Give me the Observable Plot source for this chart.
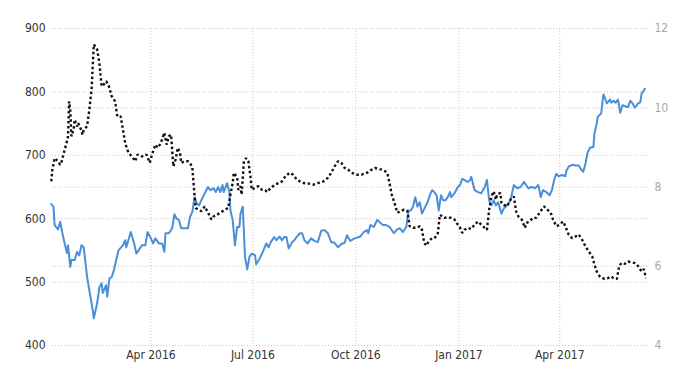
<!DOCTYPE html>
<html>
<head>
<meta charset="utf-8">
<script src="https://cdn.jsdelivr.net/npm/d3@7"></script>
<script src="https://cdn.jsdelivr.net/npm/@observablehq/plot@0.6"></script>
<style>
  html, body { margin: 0; padding: 0; background: #fff; }
  #chart { width: 700px; height: 375px; }
</style>
</head>
<body>
<div id="chart"></div>
<script>
// Blue series (left axis)
const blueDates = [
"2016-01-03","2016-01-05","2016-01-06","2016-01-09","2016-01-11","2016-01-13","2016-01-15","2016-01-17","2016-01-18","2016-01-20",
"2016-01-21","2016-01-24","2016-01-26","2016-01-28","2016-01-30","2016-02-01","2016-02-04","2016-02-07","2016-02-09","2016-02-10",
"2016-02-13","2016-02-15","2016-02-17","2016-02-18","2016-02-21","2016-02-22","2016-02-24","2016-02-26","2016-02-28","2016-03-01",
"2016-03-03","2016-03-07","2016-03-09","2016-03-10","2016-03-14","2016-03-17","2016-03-19","2016-03-21","2016-03-24","2016-03-27",
"2016-03-29","2016-04-01","2016-04-03","2016-04-05","2016-04-08","2016-04-11","2016-04-13","2016-04-14","2016-04-17","2016-04-20",
"2016-04-22","2016-04-24","2016-04-26","2016-04-28","2016-05-01","2016-05-04","2016-05-06","2016-05-08","2016-05-10","2016-05-12",
"2016-05-14","2016-05-16","2016-05-19","2016-05-22","2016-05-24","2016-05-27","2016-05-29","2016-05-31","2016-06-02","2016-06-04",
"2016-06-05","2016-06-08","2016-06-10","2016-06-11","2016-06-13","2016-06-15","2016-06-17","2016-06-19","2016-06-20","2016-06-22",
"2016-06-24","2016-06-26","2016-06-28","2016-06-30","2016-07-03","2016-07-04","2016-07-07","2016-07-10","2016-07-13","2016-07-15",
"2016-07-17","2016-07-20","2016-07-22","2016-07-25","2016-07-27","2016-07-29","2016-07-31","2016-08-02","2016-08-05","2016-08-07",
"2016-08-09","2016-08-12","2016-08-14","2016-08-16","2016-08-19","2016-08-22","2016-08-25","2016-08-28","2016-08-31","2016-09-03",
"2016-09-06","2016-09-09","2016-09-12","2016-09-15","2016-09-18","2016-09-21","2016-09-23","2016-09-26","2016-09-30","2016-10-05",
"2016-10-08","2016-10-11","2016-10-12","2016-10-14","2016-10-17","2016-10-20","2016-10-22","2016-10-25","2016-10-28","2016-10-31",
"2016-11-04","2016-11-06","2016-11-09","2016-11-12","2016-11-15","2016-11-17","2016-11-19","2016-11-21","2016-11-23","2016-11-25",
"2016-11-27","2016-11-29","2016-12-02","2016-12-04","2016-12-06","2016-12-08","2016-12-10","2016-12-12","2016-12-14","2016-12-16",
"2016-12-18","2016-12-20","2016-12-22","2016-12-24","2016-12-25","2016-12-28","2016-12-31","2017-01-02","2017-01-04","2017-01-06",
"2017-01-09","2017-01-11","2017-01-12","2017-01-15","2017-01-18","2017-01-21","2017-01-24","2017-01-26","2017-01-28","2017-01-30",
"2017-02-01","2017-02-03","2017-02-05","2017-02-08","2017-02-10","2017-02-13","2017-02-16","2017-02-19","2017-02-22","2017-02-25",
"2017-02-28","2017-03-04","2017-03-07","2017-03-10","2017-03-13","2017-03-15","2017-03-17","2017-03-20","2017-03-23","2017-03-25",
"2017-03-27","2017-03-29","2017-03-31","2017-04-03","2017-04-06","2017-04-07","2017-04-09","2017-04-12","2017-04-15","2017-04-18",
"2017-04-20","2017-04-22","2017-04-24","2017-04-26","2017-04-28","2017-05-01","2017-05-02","2017-05-04","2017-05-05","2017-05-08",
"2017-05-10","2017-05-11","2017-05-13","2017-05-16","2017-05-17","2017-05-19","2017-05-21","2017-05-23","2017-05-25","2017-05-27",
"2017-05-30","2017-06-01","2017-06-03","2017-06-05","2017-06-07","2017-06-10","2017-06-12","2017-06-13","2017-06-15","2017-06-16"
];
const blueValues = [
623,619,590,583,595,577,561,546,558,524,
535,535,548,542,558,555,508,477,456,443,
467,492,498,483,495,477,506,508,519,535,
550,558,566,555,579,561,545,550,558,558,
579,569,561,569,561,561,548,577,577,585,
607,600,598,585,585,585,603,611,634,624,
621,629,640,650,645,648,642,650,642,653,
642,656,642,613,598,558,587,587,608,619,
540,520,540,545,542,528,537,548,561,555,
563,571,566,572,566,571,571,553,563,566,
571,577,577,566,561,569,565,563,581,582,
577,563,562,555,560,562,574,565,569,572,
579,582,577,590,587,598,595,590,590,587,
577,582,585,579,587,613,613,619,634,619,
626,608,619,626,637,645,642,637,613,637,
629,629,634,642,634,640,650,653,663,661,
658,661,666,645,642,640,650,661,629,621,
629,621,626,608,616,621,629,653,648,650,
658,648,650,648,653,634,645,642,637,645,
661,671,667,669,667,676,682,685,684,684,
678,674,687,705,712,713,734,750,761,766,
796,792,782,788,783,786,783,788,767,779,
777,776,786,782,775,782,784,797,802,805
];

// Black dotted series (right axis)
const blackDates = [
"2016-01-03","2016-01-04","2016-01-06","2016-01-09","2016-01-11","2016-01-12","2016-01-15","2016-01-17","2016-01-18","2016-01-19",
"2016-01-20","2016-01-21","2016-01-23","2016-01-24","2016-01-26","2016-01-27","2016-01-29","2016-01-31","2016-02-01","2016-02-04",
"2016-02-06","2016-02-08","2016-02-10","2016-02-13","2016-02-15","2016-02-17","2016-02-19","2016-02-21","2016-02-23","2016-02-26",
"2016-02-29","2016-03-02","2016-03-05","2016-03-07","2016-03-09","2016-03-12","2016-03-15","2016-03-18","2016-03-20","2016-03-24",
"2016-03-28","2016-03-31","2016-04-02","2016-04-05","2016-04-07","2016-04-09","2016-04-11","2016-04-13","2016-04-15","2016-04-17",
"2016-04-19","2016-04-21","2016-04-23","2016-04-25","2016-04-27","2016-04-28","2016-05-01","2016-05-04","2016-05-06","2016-05-08",
"2016-05-10","2016-05-11","2016-05-13","2016-05-16","2016-05-19","2016-05-22","2016-05-25","2016-05-27","2016-05-30","2016-06-02",
"2016-06-06","2016-06-09","2016-06-11","2016-06-13","2016-06-14","2016-06-17","2016-06-18","2016-06-20","2016-06-21","2016-06-23",
"2016-06-25","2016-06-27","2016-06-29","2016-06-30","2016-07-03","2016-07-06","2016-07-09","2016-07-12","2016-07-14","2016-07-17",
"2016-07-21","2016-07-24","2016-07-27","2016-07-30","2016-08-03","2016-08-06","2016-08-09","2016-08-12","2016-08-15","2016-08-19",
"2016-08-24","2016-08-28","2016-09-02","2016-09-06","2016-09-09","2016-09-12","2016-09-15","2016-09-18","2016-09-21","2016-09-24",
"2016-09-27","2016-10-02","2016-10-06","2016-10-11","2016-10-14","2016-10-18","2016-10-21","2016-10-24","2016-10-27","2016-10-29",
"2016-10-31","2016-11-02","2016-11-05","2016-11-07","2016-11-10","2016-11-13","2016-11-16","2016-11-18","2016-11-21","2016-11-24",
"2016-11-27","2016-11-29","2016-12-01","2016-12-03","2016-12-05","2016-12-08","2016-12-10","2016-12-13","2016-12-15","2016-12-17",
"2016-12-19","2016-12-22","2016-12-25","2016-12-28","2016-12-31","2017-01-02","2017-01-04","2017-01-06","2017-01-09","2017-01-12",
"2017-01-15","2017-01-18","2017-01-21","2017-01-24","2017-01-26","2017-01-28","2017-01-30","2017-02-01","2017-02-03","2017-02-04",
"2017-02-07","2017-02-08","2017-02-10","2017-02-13","2017-02-16","2017-02-19","2017-02-21","2017-02-23","2017-02-26","2017-03-01",
"2017-03-02","2017-03-05","2017-03-08","2017-03-11","2017-03-14","2017-03-18","2017-03-21","2017-03-24","2017-03-26","2017-03-29",
"2017-04-01","2017-04-04","2017-04-06","2017-04-09","2017-04-12","2017-04-15","2017-04-18","2017-04-21","2017-04-24","2017-04-27",
"2017-04-30","2017-05-02","2017-05-04","2017-05-07","2017-05-11","2017-05-14","2017-05-17","2017-05-19","2017-05-22","2017-05-24",
"2017-05-26","2017-05-29","2017-06-01","2017-06-04","2017-06-07","2017-06-09","2017-06-11","2017-06-13","2017-06-15","2017-06-17"
];
const blackValues = [
8.14,8.44,8.73,8.65,8.56,8.61,8.94,9.15,9.28,10.16,
9.95,9.28,9.45,9.70,9.53,9.62,9.49,9.32,9.45,9.53,
9.95,10.46,11.60,11.47,11.13,10.54,10.59,10.67,10.59,10.29,
10.16,9.78,9.78,9.45,9.11,8.86,8.77,8.65,8.82,8.77,
8.82,8.61,8.82,9.07,8.99,9.07,9.20,9.37,9.07,9.28,
9.32,8.52,8.69,8.99,8.86,8.61,8.65,8.65,8.61,8.48,
7.76,7.47,7.43,7.39,7.51,7.35,7.18,7.26,7.30,7.35,
7.43,7.47,7.81,8.10,8.36,8.23,7.93,8.02,7.81,8.65,
8.73,8.65,8.23,7.93,7.98,8.02,7.93,7.92,7.87,7.98,
8.06,8.10,8.14,8.27,8.36,8.31,8.20,8.14,8.10,8.09,
8.06,8.10,8.14,8.23,8.36,8.52,8.65,8.61,8.48,8.44,
8.36,8.31,8.31,8.36,8.42,8.48,8.46,8.44,8.40,8.36,
8.10,7.81,7.55,7.35,7.39,7.43,7.39,7.01,6.97,6.97,
7.01,6.92,6.59,6.52,6.63,6.71,6.71,6.80,7.30,7.26,
7.22,7.24,7.22,7.18,7.05,6.97,6.84,6.92,6.97,6.94,
7.05,7.13,7.05,6.97,6.92,7.43,7.76,7.89,7.68,7.81,
7.85,7.60,7.55,7.51,7.68,7.76,7.39,7.26,7.18,6.97,
7.09,7.13,7.22,7.22,7.35,7.51,7.43,7.35,7.18,7.01,
7.05,7.13,7.01,6.80,6.71,6.75,6.80,6.67,6.50,6.37,
6.25,6.04,5.87,5.73,5.68,5.70,5.74,5.70,5.68,6.00,
6.08,6.06,6.12,6.10,6.08,6.04,5.96,5.87,5.93,5.70
];

// Axis ticks
const leftTicks = [400, 500, 600, 700, 800, 900];
const rightTicks = [4, 6, 8, 10, 12];
const xTickDates = ["2016-04-01", "2016-07-01", "2016-10-01", "2017-01-01", "2017-04-01"];

// right axis [4,12] shares the frame with left axis [400,900]
const rightToLeft = v => 400 + (v - 4) * 62.5;
const leftToRight = v => 4 + (v - 400) / 62.5;

const blue = blueDates.map((d, i) => ({date: new Date(d), value: blueValues[i]}));
const black = blackDates.map((d, i) => ({date: new Date(d), value: blackValues[i]}));
const xTicks = xTickDates.map(d => new Date(d));

const font = "'Liberation Sans Narrow', 'DejaVu Sans Condensed', 'Liberation Sans', sans-serif";

const chart = Plot.plot({
  width: 700,
  height: 375,
  marginLeft: 52,
  marginRight: 52,
  marginTop: 28,
  marginBottom: 30,
  style: {fontFamily: font, fontSize: "12px", background: "#fff"},
  x: {type: "utc", domain: [new Date(Date.UTC(2016, 0, 4, 3)), new Date(Date.UTC(2017, 5, 19, 6))]},
  y: {domain: [400, 900]},
  marks: [
    Plot.gridX(xTicks, {stroke: "#c8c8c8", strokeOpacity: 1, strokeDasharray: "1,2"}),
    Plot.gridY(leftTicks, {stroke: "#c8c8c8", strokeOpacity: 1, strokeDasharray: "1,2"}),
    Plot.gridY(rightTicks.map(rightToLeft), {stroke: "#c8c8c8", strokeOpacity: 1, strokeDasharray: "1,2"}),
    Plot.axisY(leftTicks, {anchor: "left", tickSize: 0, tickPadding: 7, label: null, fill: "#333", fontSize: 12}),
    Plot.axisY(rightTicks.map(rightToLeft), {anchor: "right", tickSize: 0, tickPadding: 6, label: null,
      tickFormat: v => String(Math.round(leftToRight(v))), fill: "#a8a8a8", fontSize: 12}),
    Plot.axisX(xTicks, {anchor: "bottom", tickSize: 0, tickPadding: 5, label: null,
      tickFormat: d3.utcFormat("%b %Y"), fill: "#333", fontSize: 12}),
    Plot.lineY(blue, {x: "date", y: "value", stroke: "#4a8fd8", strokeWidth: 2}),
    Plot.lineY(black, {x: "date", y: d => rightToLeft(d.value), stroke: "#111", strokeWidth: 2.4,
      strokeDasharray: "2.5,2.5", strokeLinecap: "butt", strokeLinejoin: "miter"})
  ]
});
document.getElementById("chart").appendChild(chart);
</script>
</body>
</html>
